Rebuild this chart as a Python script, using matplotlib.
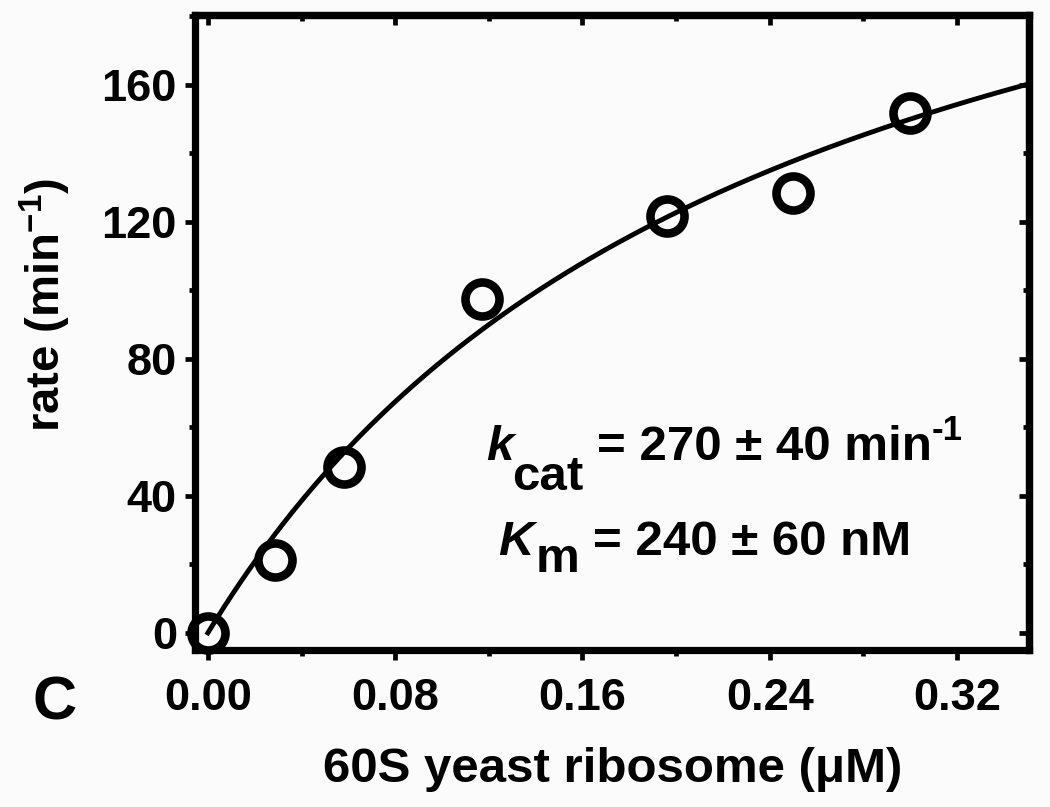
import numpy as np
import matplotlib
matplotlib.use("Agg")
import matplotlib.pyplot as plt
from matplotlib.ticker import MultipleLocator, FormatStrFormatter

# data
conc_uM = [0.0, 0.0286, 0.058, 0.117, 0.196, 0.250, 0.300]
rate = [0.0, 21.3, 48.5, 97.5, 121.8, 128.5, 151.8]
# fitted Michaelis-Menten parameters shown in the chart
kcat = 270.0      # min^-1
Km_uM = 0.240     # uM

x_ticks = [0.00, 0.08, 0.16, 0.24, 0.32]
y_ticks = [0, 40, 80, 120, 160]

FONT = "Liberation Sans"
plt.rcParams['font.family'] = [FONT, 'DejaVu Sans']
plt.rcParams['font.weight'] = 'bold'
plt.rcParams['mathtext.fontset'] = 'custom'
plt.rcParams['mathtext.rm'] = 'Liberation Sans:bold'
plt.rcParams['mathtext.bf'] = 'Liberation Sans:bold'
plt.rcParams['mathtext.it'] = 'Liberation Sans:bold:italic'

W, H = 1050, 807
fig = plt.figure(figsize=(W / 100, H / 100), dpi=100, facecolor='#fbfbfb')
ax = fig.add_axes([195 / W, 1 - 650 / H, (1029 - 195) / W, (650 - 15) / H])
ax.set_facecolor('#fbfbfb')

ax.set_xlim(-0.0055, 0.3507)
ax.set_ylim(-5.0, 180.4)

xf = np.linspace(0, 0.3507, 300)
ax.plot(xf, kcat * xf / (Km_uM + xf), color='black', lw=3.5, zorder=2)
ax.plot(conc_uM, rate, linestyle='none', marker='o', ms=24.5, mfc='none',
        mec='black', mew=6.2, zorder=3, clip_on=False)

for s in ax.spines.values():
    s.set_linewidth(5.2)

ax.set_xticks(x_ticks)
ax.set_yticks(y_ticks)
ax.xaxis.set_minor_locator(MultipleLocator(0.04))
ax.yaxis.set_minor_locator(MultipleLocator(20))
ax.xaxis.set_major_formatter(FormatStrFormatter('%.2f'))
ax.tick_params(which='major', direction='out', length=7, width=3.4,
               labelsize=32.5, pad=6)
ax.tick_params(axis='x', which='major', pad=13)
ax.tick_params(which='minor', direction='out', length=4, width=3.4)
for lab in ax.get_xticklabels() + ax.get_yticklabels():
    lab.set_fontweight('bold')

# mirrored inward ticks on top and right
top = ax.secondary_xaxis('top')
top.set_xticks(x_ticks)
top.xaxis.set_minor_locator(MultipleLocator(0.04))
top.tick_params(which='major', direction='in', length=7, width=3.4, labeltop=False)
top.tick_params(which='minor', direction='in', length=4, width=3.4)
top.spines['top'].set_linewidth(5.2)
right = ax.secondary_yaxis('right')
right.set_yticks(y_ticks)
right.yaxis.set_minor_locator(MultipleLocator(20))
right.tick_params(which='major', direction='in', length=7, width=3.4, labelright=False)
right.tick_params(which='minor', direction='in', length=4, width=3.4)
right.spines['right'].set_linewidth(5.2)

def ftext(px, py, s, size, style='normal', va='baseline', ha='left', rot=0):
    fig.text(px / W, 1 - py / H, s, fontsize=size, fontweight='bold',
             fontstyle=style, va=va, ha=ha, rotation=rot)

# axis labels
ftext(613, 770, '60S yeast ribosome (μM)', 35.5, va='center', ha='center')
ftext(45, 305, 'rate (min$^{\\mathbf{-1}}$)', 34, va='center', ha='center', rot=90)

# annotation
ftext(486, 460, 'k', 35.5, 'italic')
ftext(512, 490, 'cat', 35.5)
ftext(597, 460, '= 270 ± 40 min', 35.5)
ftext(932, 440, '-1', 25)
ftext(498, 555, 'K', 35.5, 'italic')
ftext(536, 572, 'm', 35.5)
ftext(593, 555, '= 240 ± 60 nM', 35.5)

# panel letter
ftext(55, 704, 'C', 44, va='center', ha='center')

fig.savefig('out.png', dpi=100, facecolor=fig.get_facecolor())
